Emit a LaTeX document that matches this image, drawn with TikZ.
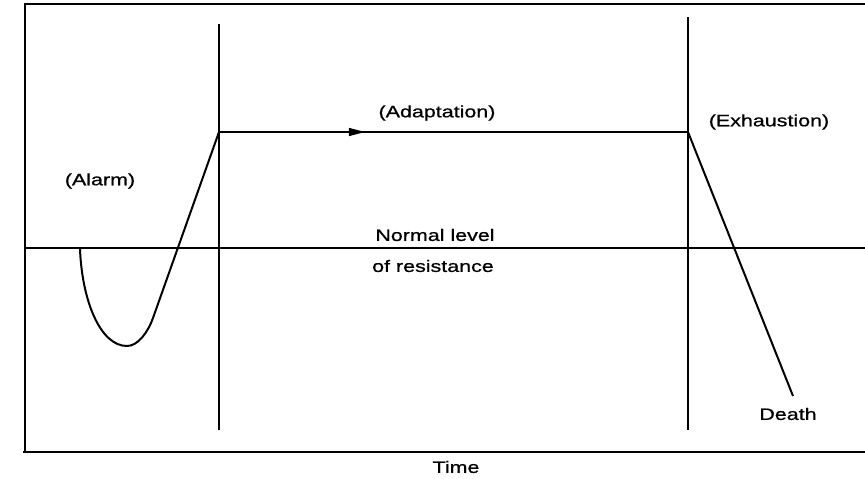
\documentclass[tikz,border=0pt]{standalone}
\usepackage{fontspec}
\newfontfamily\lblfont{Liberation Sans}[FakeStretch=1.3,FakeBold=0.8]
\usetikzlibrary{arrows.meta,decorations.markings}
\begin{document}
\begin{tikzpicture}[x=1pt,y=-1pt,
  frame/.style={line width=2.6pt},
  curve/.style={line width=2pt, line join=round},
  lbl/.style={inner sep=0pt, font=\lblfont\fontsize{16.5}{18}\selectfont}]
\useasboundingbox (0,0) rectangle (865,479);

% axes frame (open on the right)
\coordinate (tl) at (25,4);
\coordinate (tr) at (865,4);
\coordinate (bl) at (23,452);
\coordinate (br) at (865,452);
\draw[frame] (tr) -- (tl) -- (25,452);
\draw[frame] (bl) -- (br);

% stage boundaries
\coordinate (v1t) at (219,24);
\coordinate (v1b) at (219,430);
\coordinate (v2t) at (688,17);
\coordinate (v2b) at (688,430);
\draw[curve] (v1t) -- (v1b);
\draw[curve] (v2t) -- (v2b);

% normal level of resistance
\coordinate (nl) at (25,248);
\coordinate (nr) at (865,248);
\draw[curve] (nl) -- (nr);

% alarm reaction
\coordinate (a0) at (80,249);
\coordinate (amin) at (127,346);
\coordinate (arise) at (153,318);
\coordinate (peak) at (219,132);
\draw[curve] (a0) .. controls (82,300) and (100,346) .. (amin)
  .. controls (138,346) and (148,332) .. (arise) -- (peak);

% adaptation plateau with direction arrow
\coordinate (plateauend) at (688,132);
\draw[curve, decoration={markings,
    mark=at position 0.311 with {\fill (0,0) -- (-16pt,4.2pt) -- (-16pt,-4.2pt) -- cycle;}},
  postaction={decorate}] (peak) -- (plateauend);

% exhaustion decline
\coordinate (deathpt) at (793,396);
\draw[curve] (plateauend) -- (deathpt);

% labels
\node[lbl] (alarm) at (100,181) {(Alarm)};
\node[lbl] (adapt) at (437,113) {(Adaptation)};
\node[lbl] (normal) at (435,235) {Normal level};
\node[lbl] (resist) at (433,266) {of resistance};
\node[lbl] (exhaust) at (769,122) {(Exhaustion)};
\node[lbl] (death) at (788,414) {Death};
\node[lbl] (time) at (456,467) {Time};
\end{tikzpicture}
\end{document}
